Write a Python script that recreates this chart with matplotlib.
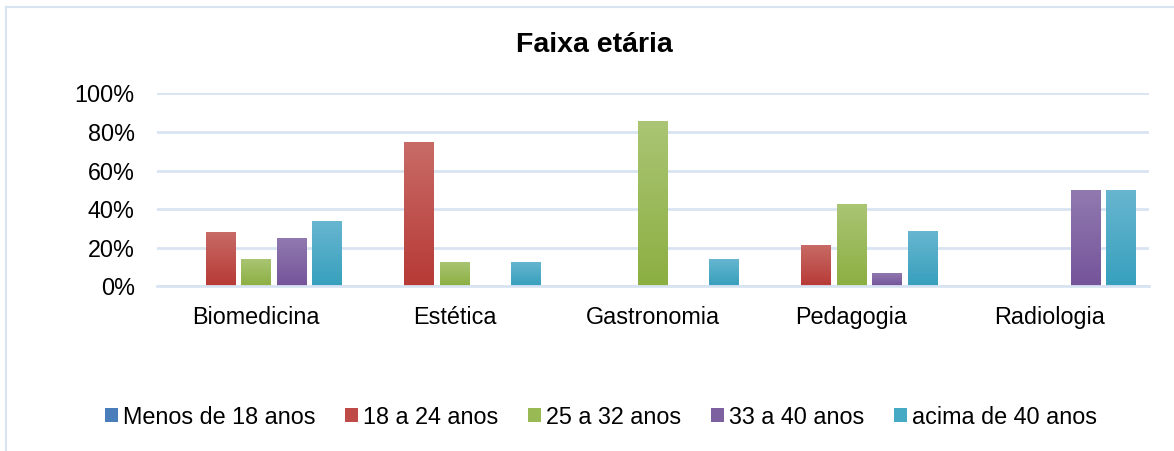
import numpy as np
import matplotlib
matplotlib.use("Agg")
import matplotlib.pyplot as plt
from matplotlib.colors import LinearSegmentedColormap
from matplotlib.lines import Line2D
from matplotlib.patches import Patch

# ── Data ──────────────────────────────────────────────────────────────────────

cursos = ['Biomedicina', 'Estética', 'Gastronomia', 'Pedagogia', 'Radiologia']
faixas = ['Menos de 18 anos', '18 a 24 anos', '25 a 32 anos',
          '33 a 40 anos', 'acima de 40 anos']

menos_18 = [0.0, 0.0, 0.0, 0.0, 0.0]
de_18_24 = [0.28, 0.75, 0.0, 0.214, 0.0]
de_25_32 = [0.14, 0.125, 0.857, 0.429, 0.0]
de_33_40 = [0.25, 0.0, 0.0, 0.071, 0.50]
acima_40 = [0.338, 0.125, 0.143, 0.286, 0.50]

series = [menos_18, de_18_24, de_25_32, de_33_40, acima_40]

# gradient colours (top, bottom) and legend swatch colour per series
grad = [('#6A96CC', '#3C6EB0'),
        ('#C86B67', '#B73A36'),
        ('#AAC574', '#8CAF42'),
        ('#917AB0', '#75549A'),
        ('#68B6D0', '#37A0BD')]
swatch = ['#4A7EBB', '#BE4B48', '#98B954', '#7D60A0', '#46AAC5']

GRID = '#D9E4F2'

plt.rcParams['font.family'] = ['Liberation Sans', 'DejaVu Sans']

# ── Figure ────────────────────────────────────────────────────────────────────

fig = plt.figure(figsize=(11.74, 4.51), dpi=100)
ax = fig.add_axes([157 / 1174, 1 - 286.3 / 451, (1149 - 157) / 1174, (286.3 - 93.3) / 451])

x = np.arange(len(cursos))
step = 0.179
width = 0.149

for i, vals in enumerate(series):
    cmap = LinearSegmentedColormap.from_list(f's{i}', [grad[i][1], grad[i][0]])
    offs = (i - 2) * step
    bars = ax.bar(x + offs, vals, width, color='none', edgecolor='none', zorder=3)
    for b, v in zip(bars, vals):
        if v <= 0:
            continue
        x0 = b.get_x()
        img = ax.imshow(np.linspace(0, 1, 64).reshape(-1, 1), cmap=cmap,
                        extent=[x0, x0 + width, 0, v], origin='lower',
                        aspect='auto', zorder=3)
        img.set_clip_path(b)

ax.set_xlim(-0.5, len(cursos) - 0.5)
ax.set_ylim(0, 1)
ax.set_yticks(np.arange(0, 1.01, 0.2))
ax.set_yticklabels([f'{int(round(t * 100))}%' for t in np.arange(0, 1.01, 0.2)])
ax.set_xticks(x)
ax.set_xticklabels(cursos)
ax.tick_params(axis='both', length=0, labelsize=16.8, colors='#000000')
ax.tick_params(axis='y', pad=16)
ax.tick_params(axis='x', pad=14)

ax.yaxis.grid(True, color=GRID, linewidth=2, zorder=0)
ax.set_axisbelow(True)
for s in ['top', 'right', 'left']:
    ax.spines[s].set_visible(False)
ax.spines['bottom'].set_color(GRID)
ax.spines['bottom'].set_linewidth(2)
ax.spines['bottom'].set_zorder(4)

# title
fig.text(594 / 1174, 1 - 45 / 451, 'Faixa etária', ha='center', va='center',
         fontsize=20.5, fontweight='bold')

# legend
handles = [Patch(facecolor=c, edgecolor='none') for c in swatch]
fig.legend(handles, faixas, loc='center', bbox_to_anchor=(601 / 1174, 1 - 417 / 451),
           ncol=5, frameon=False, fontsize=16.8, handlelength=0.55, handleheight=0.55,
           handletextpad=0.2, columnspacing=1.3, borderaxespad=0, borderpad=0)

# chart-area border (left and top edges visible)
fig.add_artist(Line2D([5.5 / 1174, 5.5 / 1174], [0, 1 - 7 / 451],
                      transform=fig.transFigure, color=GRID, linewidth=1.5))
fig.add_artist(Line2D([5.5 / 1174, 1], [1 - 7 / 451, 1 - 7 / 451],
                      transform=fig.transFigure, color=GRID, linewidth=1.5))

fig.savefig('out.png', dpi=100)
